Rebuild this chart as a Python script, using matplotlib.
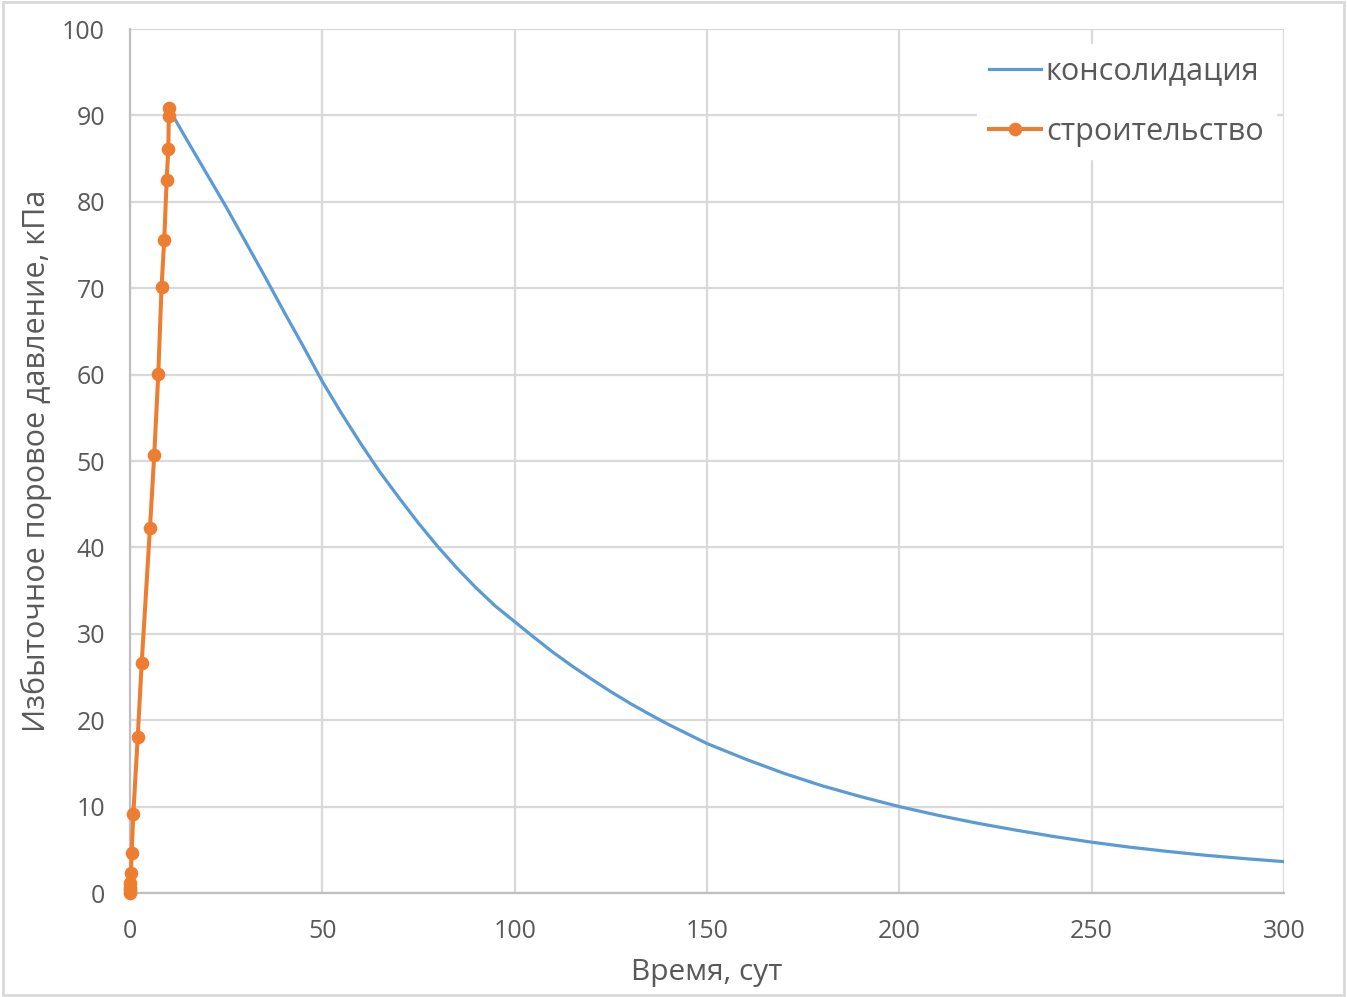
import matplotlib
matplotlib.use("Agg")
import matplotlib.pyplot as plt
from matplotlib.patches import Rectangle

# Data
cons_t = [10.2, 15, 20, 25, 30, 35, 40, 45, 50, 55, 60, 65, 70, 75, 80, 85, 90, 95,
          100, 105, 110, 115, 120, 125, 130, 135, 140, 145, 150, 160, 170, 180,
          190, 200, 210, 220, 230, 240, 250, 260, 270, 280, 290, 300]
cons_u = [90.7, 87.0, 83.2, 79.4, 75.4, 71.4, 67.3, 63.3, 59.2, 55.5, 52.0, 48.7,
          45.7, 42.8, 40.1, 37.6, 35.3, 33.2, 31.4, 29.6, 27.85, 26.25, 24.75,
          23.3, 21.95, 20.7, 19.5, 18.4, 17.3, 15.5, 13.85, 12.4, 11.15, 10.0,
          9.0, 8.1, 7.3, 6.55, 5.88, 5.3, 4.8, 4.35, 3.97, 3.63]

build_t = [0.0, 0.03, 0.06, 0.12, 0.25, 0.43, 0.87, 2.0, 3.04, 5.2, 6.3, 7.36,
           8.2, 8.9, 9.53, 9.96, 10.1, 10.2]
build_u = [0.0, 0.3, 0.6, 1.15, 2.3, 4.6, 9.2, 18.0, 26.6, 42.3, 50.7, 60.1,
           70.1, 75.6, 82.5, 86.1, 89.9, 90.8]

x_ticks = [0, 50, 100, 150, 200, 250, 300]
y_ticks = [0, 10, 20, 30, 40, 50, 60, 70, 80, 90, 100]

label_cons = "консолидация"
label_build = "строительство"
xlabel = "Время, сут"
ylabel = "Избыточное поровое давление, кПа"

plt.rcParams['font.family'] = ['Open Sans', 'DejaVu Sans']
text_color = "#595959"
grid_color = "#d9d9d9"

fig = plt.figure(figsize=(13.47, 9.97), dpi=100)
ax = fig.add_axes([130/1347, 1-893/997, (1284-130)/1347, (893-29)/997])

ax.plot(cons_t, cons_u, color="#5b9bd5", lw=2.3, label=label_cons, zorder=3,
        solid_joinstyle="round")
ax.plot(build_t, build_u, color="#ed7d31", lw=2.9, marker="o", markersize=8.8,
        label=label_build, zorder=4, clip_on=False)

ax.set_xlim(0, 300)
ax.set_ylim(0, 100)
ax.set_xticks(x_ticks)
ax.set_yticks(y_ticks)
ax.grid(True, color=grid_color, lw=1.6, zorder=0)
ax.set_axisbelow(True)
for s in ["top", "right"]:
    ax.spines[s].set_visible(False)
for s in ["left", "bottom"]:
    ax.spines[s].set_color("#bfbfbf")
    ax.spines[s].set_linewidth(1.6)
ax.tick_params(length=0, labelsize=18, labelcolor=text_color)
ax.tick_params(axis="x", pad=19)
ax.tick_params(axis="y", pad=18)

ax.set_xlabel(xlabel, fontsize=21.5, color=text_color, labelpad=10)
ax.set_ylabel(ylabel, fontsize=22, color=text_color, labelpad=7)

leg = ax.legend(loc="upper right", bbox_to_anchor=(1.006, 1.0), fontsize=22,
                frameon=True, fancybox=False, edgecolor="white", facecolor="white",
                framealpha=1.0, labelspacing=1.0, handlelength=1.7,
                handletextpad=0.15, borderpad=0.4)
for t in leg.get_texts():
    t.set_color(text_color)

fig.patches.append(Rectangle((0.002, 0.002), 0.996, 0.996, transform=fig.transFigure,
                             fill=False, edgecolor="#d9d9d9", lw=2))

fig.savefig("out.png", dpi=100, facecolor="white")
